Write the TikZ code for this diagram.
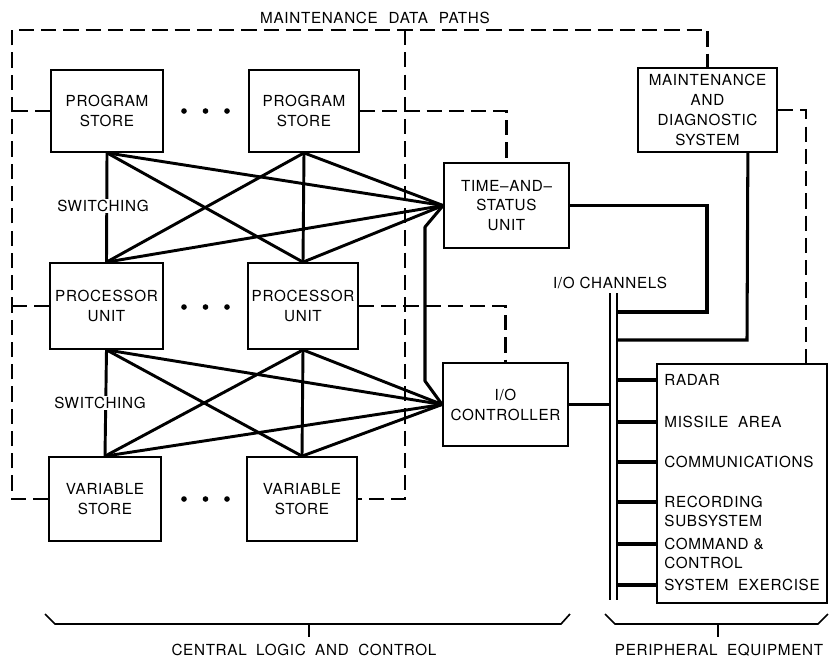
\documentclass[tikz,border=0pt]{standalone}
\usepackage{fontspec}
\setmainfont{TeX Gyre Heros}[LetterSpace=4.5]
\usetikzlibrary{calc}

\begin{document}
\begin{tikzpicture}[x=0.03cm,y=-0.03cm,
  every node/.style={font=\fontsize{13}{17}\selectfont},
  box/.style={draw, line width=1.5pt, align=center, inner sep=0pt},
  lbl/.style={inner sep=1pt, text height=9.3pt, text depth=0pt},
  sw/.style={line width=2.5pt},
  wire/.style={line width=2.6pt},
  thinline/.style={line width=1.4pt},
  mpath/.style={line width=1.9pt, dash pattern=on 13pt off 6pt},
  dot/.style={circle, fill, inner sep=0pt, minimum size=4.8pt}
]
\useasboundingbox (0,0) rectangle (829,658);

% central logic boxes
\node[box, minimum width=3.36cm, minimum height=2.46cm] (PS1) at (107,111) {PROGRAM\\STORE};
\node[box, minimum width=3.30cm, minimum height=2.46cm] (PS2) at (304,111) {PROGRAM\\STORE};
\node[box, minimum width=3.39cm, minimum height=2.58cm] (PU1) at (106.5,306) {PROCESSOR\\UNIT};
\node[box, minimum width=3.30cm, minimum height=2.58cm] (PU2) at (303,306) {PROCESSOR\\UNIT};
\node[box, minimum width=3.36cm, minimum height=2.52cm] (VS1) at (105,499) {VARIABLE\\STORE};
\node[box, minimum width=3.30cm, minimum height=2.52cm] (VS2) at (302,499) {VARIABLE\\STORE};
\node[box, minimum width=3.75cm, minimum height=2.55cm] (TS) at (506.5,205.5) {TIME--AND--\\STATUS\\UNIT};
\node[box, minimum width=3.75cm, minimum height=2.49cm] (IO) at (505.5,404.5) {I/O\\CONTROLLER};
\node[box, minimum width=4.17cm, minimum height=2.52cm] (MD) at (707.5,110) {MAINTENANCE\\AND\\DIAGNOSTIC\\SYSTEM};
\node[draw, line width=1.5pt, minimum width=5.10cm, minimum height=7.17cm, inner sep=0pt] (PE) at (742,483.5) {};

% ellipsis dots between repeated units
\foreach \r/\y in {a/111, b/307, c/499}{
  \node[dot] (dot\r1) at (184,\y) {};
  \node[dot] (dot\r2) at (205.5,\y) {};
  \node[dot] (dot\r3) at (227,\y) {};
}

% maintenance data paths
\coordinate (tl) at (12,30);
\coordinate (bl) at (12,499);
\coordinate (tm) at (405,30);
\coordinate (pein) at ($(PE.north east)+(-22,0)$);
\draw[mpath] (VS1.west) -- (bl) -- (tl) -| (MD.north);
\draw[mpath] (PS1.west) -- (PS1.west -| tl);
\draw[mpath] (PU1.west) -- (PU1.west -| tl);
\draw[mpath] (tm) -- (tm |- VS2.east) -- (VS2.east);
\draw[mpath] (PS2.east) -| (TS.north);
\draw[mpath] (PU2.east) -| (IO.north);
\draw[mpath] (MD.east) -| (pein);
\node[lbl] (mdp) at (375,18) {MAINTENANCE\hspace{0.4em} DATA\hspace{0.4em} PATHS};

% switching between program stores and processors
\foreach \a in {PS1,PS2}{
  \foreach \b in {PU1,PU2}{ \draw[sw] (\a.south) -- (\b.north); }
  \draw[sw] (\a.south) -- (TS.west);
}
\draw[sw] (PU1.north) -- (TS.west);
\draw[sw] (PU2.north) -- (TS.west);
% switching between processors and variable stores
\foreach \a in {PU1,PU2}{
  \foreach \b in {VS1,VS2}{ \draw[sw] (\a.south) -- (\b.north); }
  \draw[sw] (\a.south) -- (IO.west);
}
\draw[sw] (VS1.north) -- (IO.west);
\draw[sw] (VS2.north) -- (IO.west);
\node[lbl, fill=white] (sw1) at (103,206) {SWITCHING};
\node[lbl, fill=white] (sw2) at (100,403) {SWITCHING};

% link between time-and-status unit and I/O controller
\coordinate (k1) at (425,227);
\coordinate (k2) at (425,381);
\draw[wire, line join=round] (TS.west) -- (k1) -- (k2) -- (IO.west);

% I/O channel bus
\coordinate (busLt) at (610,293);
\coordinate (busLb) at (610,600);
\coordinate (busRt) at (617,293);
\coordinate (busRb) at (617,600);
\draw[thinline] (busLt) -- (busLb);
\draw[thinline] (busRt) -- (busRb);
\node[lbl] (ioch) at (610,283) {I/O CHANNELS};

\draw[wire] (IO.east) -- (IO.east -| busLt);
\coordinate (tsbend) at (707,312);
\draw[wire] (TS.east) -| (tsbend) -- (tsbend -| busRt);
\coordinate (mdout) at ($(MD.south east)+(-30,0)$);
\coordinate (mdbend) at (747,340);
\draw[wire] (mdout) -- (mdbend) -- (mdbend -| busRt);

% peripheral equipment
\node[lbl, anchor=west] (radar) at (663,380) {RADAR};
\node[lbl, anchor=west] (missile) at (663,422) {MISSILE\hspace{0.3em} AREA};
\node[lbl, anchor=west] (comms) at (663,462) {COMMUNICATIONS};
\node[lbl, anchor=west] (rec1) at (663,502) {RECORDING};
\node[lbl, anchor=west] (rec2) at (663,521.5) {SUBSYSTEM};
\node[lbl, anchor=west] (cmd1) at (663,544) {COMMAND \&};
\node[lbl, anchor=west] (cmd2) at (663,563) {CONTROL};
\node[lbl, anchor=west] (sysex) at (663,585) {SYSTEM\hspace{0.3em} EXERCISE};
\foreach \n in {radar,missile,comms,rec1,cmd1,sysex}{
  \draw[line width=2.8pt] (\n.west -| busRt) -- (\n.west -| PE.west);
}

% grouping braces
\draw[thinline] (45,614) -- (55,624) -- (561,624) -- (570,614);
\draw[thinline] (309,624) -- (309,637);
\node[lbl, inner sep=0pt] (clc) at (304,650) {CENTRAL\hspace{0.3em} LOGIC\hspace{0.3em} AND\hspace{0.3em} CONTROL};
\draw[thinline] (605,614) -- (615,624) -- (818,624) -- (828,614);
\draw[thinline] (718,624) -- (718,637);
\node[lbl, inner sep=0pt] (peq) at (719,650) {PERIPHERAL\hspace{0.3em} EQUIPMENT};
\end{tikzpicture}
\end{document}
